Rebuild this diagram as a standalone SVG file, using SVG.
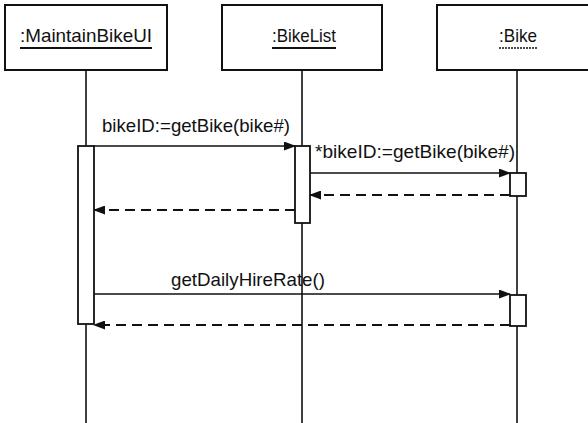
<svg xmlns="http://www.w3.org/2000/svg" width="588" height="423" viewBox="0 0 588 423">
<style>
.box{fill:#fff;stroke:#111;stroke-width:2}
.life{stroke:#111;stroke-width:1.6;fill:none}
.act{fill:#fff;stroke:#111;stroke-width:1.8}
.msg{stroke:#111;stroke-width:1.6;fill:none}
.ret{stroke:#111;stroke-width:1.8;fill:none;stroke-dasharray:10 6}
text{font-family:"Liberation Sans",Arial,sans-serif;font-size:19px;fill:#111}
.ul{stroke:#111;stroke-width:2.2}
</style>
<defs>
<marker id="ah" markerWidth="12" markerHeight="9" refX="11" refY="4.5" orient="auto" markerUnits="userSpaceOnUse">
<path d="M0,0 L12,4.5 L0,9 Z" fill="#111"/>
</marker>
</defs>
<rect width="588" height="423" fill="#fff"/>
<g id="lifelines">
<line class="life" x1="86" y1="70" x2="86" y2="423"/>
<line class="life" x1="302" y1="70" x2="302" y2="423"/>
<line class="life" x1="517" y1="70" x2="517" y2="423"/>
</g>
<g id="maintainBikeUI">
<rect class="box" x="5" y="5" width="162" height="65"/>
<text x="20" y="42" textLength="132" lengthAdjust="spacingAndGlyphs">:MaintainBikeUI</text>
<line class="ul" x1="20" y1="48" x2="152" y2="48"/>
<rect class="act" x="78" y="146" width="16" height="178"/>
</g>
<g id="bikeList">
<rect class="box" x="222" y="5" width="160" height="65"/>
<text x="272" y="42" textLength="64" lengthAdjust="spacingAndGlyphs">:BikeList</text>
<line class="ul" x1="272" y1="48" x2="336" y2="48"/>
<rect class="act" x="295" y="146" width="15" height="77"/>
</g>
<g id="bike">
<rect class="box" x="437" y="5" width="162" height="65"/>
<text x="499" y="42" textLength="38" lengthAdjust="spacingAndGlyphs">:Bike</text>
<line x1="499" y1="48" x2="537" y2="48" stroke="#111" stroke-width="1.4" stroke-dasharray="2 1"/>
<rect class="act" x="510" y="173" width="16" height="23"/>
<rect class="act" x="510" y="295" width="16" height="31"/>
</g>
<g id="connectors">
<line class="msg" x1="94" y1="146" x2="295" y2="146" marker-end="url(#ah)"/>
<text x="102" y="132" textLength="188" lengthAdjust="spacingAndGlyphs">bikeID:=getBike(bike#)</text>
<line class="msg" x1="310" y1="173" x2="510" y2="173" marker-end="url(#ah)"/>
<text x="315" y="158" textLength="200" lengthAdjust="spacingAndGlyphs">*bikeID:=getBike(bike#)</text>
<line class="ret" x1="510" y1="195" x2="310" y2="195" marker-end="url(#ah)"/>
<line class="ret" x1="295" y1="210" x2="94" y2="210" marker-end="url(#ah)"/>
<line class="msg" x1="94" y1="294" x2="510" y2="294" marker-end="url(#ah)"/>
<text x="171" y="286" textLength="154" lengthAdjust="spacingAndGlyphs">getDailyHireRate()</text>
<line class="ret" x1="510" y1="325" x2="94" y2="325" marker-end="url(#ah)"/>
</g>
</svg>
